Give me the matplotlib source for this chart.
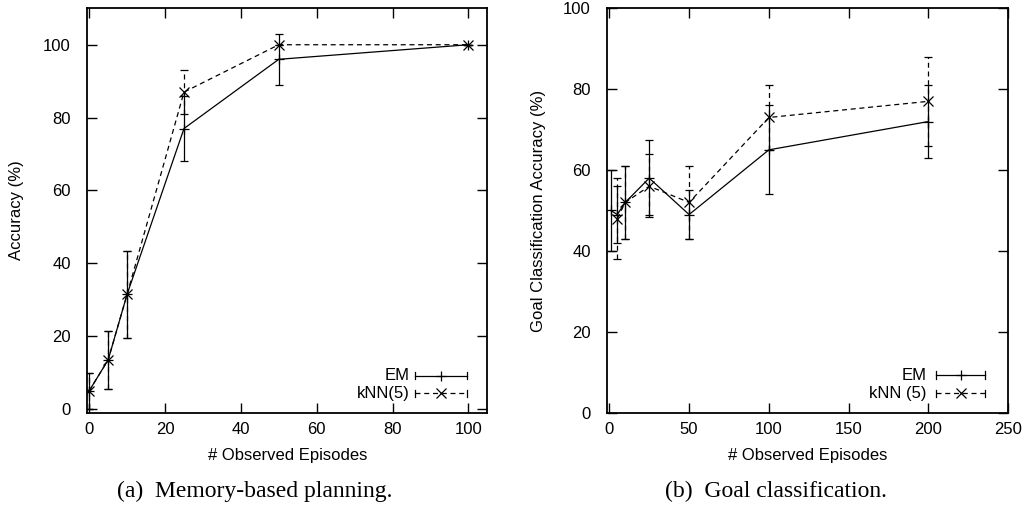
import matplotlib
matplotlib.use("Agg")
import matplotlib.pyplot as plt

# ---- data: (a) memory-based planning ----
a_x = [0, 5, 10, 25, 50, 100]
a_em = [5, 13.5, 31.5, 77, 96, 100]
a_em_err = [5, 8, 12, 9, 7, 0]
a_knn = [5, 13.5, 31.5, 87, 100, 100]
a_knn_err = [5, 8, 12, 6, 0, 0]

# ---- data: (b) goal classification ----
b_em_x = [1, 5, 10, 25, 50, 100, 200]
b_em = [50, 49, 52, 58, 49, 65, 72]
b_em_err = [10, 7, 9, 9.5, 6, 11, 9]
b_knn_x = [5, 10, 25, 50, 100, 200]
b_knn = [48, 52, 56, 52, 73, 77]
b_knn_err_lo = [10, 9, 7, 9, 8, 11]
b_knn_err_hi = [10, 9, 8, 9, 8, 11]

a_xticks = [0, 20, 40, 60, 80, 100]
a_yticks = [0, 20, 40, 60, 80, 100]
b_xticks = [0, 50, 100, 150, 200, 250]
b_yticks = [0, 20, 40, 60, 80, 100]

plt.rcParams['font.family'] = ['Liberation Sans', 'DejaVu Sans']

W, H = 1030, 507
fig = plt.figure(figsize=(W / 100, H / 100), dpi=100)

def ax_rect(l, r, t, b):
    return [l / W, 1 - b / H, (r - l) / W, (b - t) / H]

ax1 = fig.add_axes(ax_rect(87.3, 487.3, 8.3, 412.7))
ax2 = fig.add_axes(ax_rect(607.3, 1008.3, 8.3, 412.7))

FS = 12
cap = 2.6

def series(ax, x, y, err, style, marker, lw=0.9):
    eb = ax.errorbar(x, y, yerr=err, color='black', linestyle=style, lw=lw,
                     marker=marker, ms=7, mew=0.9, capsize=cap, capthick=0.9,
                     elinewidth=0.9, zorder=3)
    if style != '-':
        for c in eb[2]:
            c.set_linestyle((0, (4, 3)))
        eb[0].set_dashes((4, 3))
    return eb

series(ax1, a_x, a_em, a_em_err, '-', '+')
series(ax1, a_x, a_knn, a_knn_err, '--', 'x')
series(ax2, b_em_x, b_em, b_em_err, '-', '+')
series(ax2, b_knn_x, b_knn, [b_knn_err_lo, b_knn_err_hi], '--', 'x')

ax1.set_xlim(-0.5, 105)
ax1.set_ylim(-1, 110)
ax1.set_xticks(a_xticks)
ax1.set_yticks(a_yticks)
ax2.set_xlim(-1.25, 250)
ax2.set_ylim(0, 100)
ax2.set_xticks(b_xticks)
ax2.set_yticks(b_yticks)

for ax in (ax1, ax2):
    ax.tick_params(direction='in', length=7, width=1.0, top=True, right=True,
                   labelsize=FS)
    ax.tick_params(axis='y', pad=12)
    ax.tick_params(axis='x', pad=7)
    for s in ax.spines.values():
        s.set_linewidth(1.3)
    ax.set_xlabel('# Observed Episodes', fontsize=FS)
    ax.xaxis.label.set_va('center')
    ax.xaxis.set_label_coords(0.5, (412.7 - 455.7) / 404.4)

ax1.set_ylabel('Accuracy (%)', fontsize=FS)
ax2.set_ylabel('Goal Classification Accuracy (%)', fontsize=FS)
for ax, xc, l, w in ((ax1, 17, 87.3, 400), (ax2, 538, 607.3, 401)):
    ax.yaxis.label.set_va('center')
    ax.yaxis.label.set_ha('center')
    ax.yaxis.set_label_coords((xc - l) / w, 0.5)

# legends (gnuplot style)
def legend(ax, txt_x, x0, x1, rows):
    tr = ax.transAxes
    for (label, style, marker, y) in rows:
        ax.text(txt_x, y, label, transform=tr, ha='right', va='center', fontsize=FS)
        ln, = ax.plot([x0, x1], [y, y], color='black', lw=0.9, transform=tr, clip_on=False)
        if style == '--':
            ln.set_dashes((4, 3))
        for xe in (x0, x1):
            ax.plot([xe, xe], [y - 0.009, y + 0.009], color='black', lw=0.9,
                    transform=tr, clip_on=False)
        ax.plot([(x0 + x1) / 2], [y], marker=marker, color='black', ms=7, mew=0.9,
                transform=tr, clip_on=False)

legend(ax1, 0.806, 0.819, 0.9485, [('EM', '-', '+', 0.0915), ('kNN(5)', '--', 'x', 0.048)])
legend(ax2, 0.797, 0.8197, 0.942, [('EM', '-', '+', 0.093), ('kNN (5)', '--', 'x', 0.048)])

fig.text(254.7 / W, 1 - 491.7 / H, '(a)  Memory-based planning.', ha='center', va='center',
         fontsize=17, family=['Liberation Serif', 'DejaVu Serif'])
fig.text(775.8 / W, 1 - 491.7 / H, '(b)  Goal classification.', ha='center', va='center',
         fontsize=17, family=['Liberation Serif', 'DejaVu Serif'])

fig.savefig('out.png', dpi=100)
